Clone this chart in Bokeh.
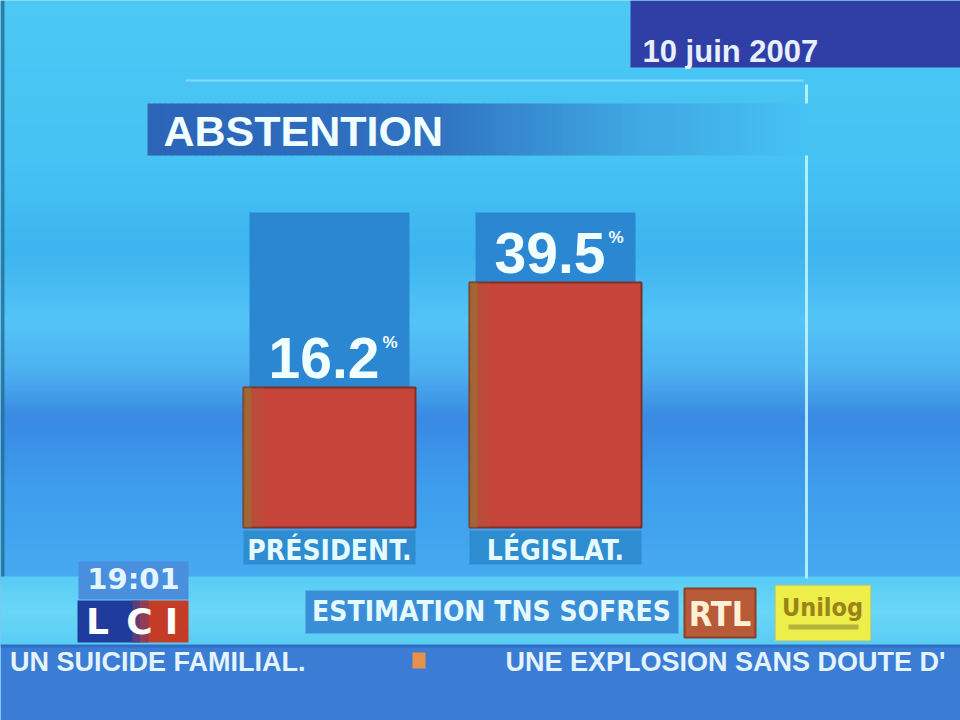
import numpy as np
from bokeh.plotting import figure
from bokeh.models import Range1d, ColumnDataSource
from bokeh.core.properties import value
from bokeh.embed import file_html
from bokeh.resources import INLINE

# ---------------- data ----------------
categories = ["PRÉSIDENT.", "LÉGISLAT."]
abstention = [16.2, 39.5]          # % abstention (estimation)
value_labels = ["16.2", "39.5"]
title_text = "ABSTENTION"
date_text = "10 juin 2007"
time_text = "19:01"
source_text = "ESTIMATION TNS SOFRES"
ticker_left = "UN SUICIDE FAMILIAL."
ticker_right = "UNE EXPLOSION SANS DOUTE D'"

# ---------------- layout (screen pixels) ----------------
W, H = 960, 720
COND = "'DejaVu Sans Condensed', 'Liberation Sans Narrow', sans-serif"
SANS = "'Liberation Sans', Arial, sans-serif"

# value scale used by the bars: zero at screen y ZERO_Y, PX_PER_PCT pixels per point
ZERO_Y = 460.0
PX_PER_PCT = 4.506
BASE_Y = 527.0                      # screen y of the bars' foot
BAR_BASE = (ZERO_Y - BASE_Y) / PX_PER_PCT
# category scale: index 0 at x=329, 226 px per category
CAT0_X, CAT_PX = 329.0, 226.0

BG = "#44bef2"
p = figure(width=W, height=H, output_backend="svg", toolbar_location=None,
           x_range=Range1d(0, W), y_range=Range1d(H, 0),
           x_axis_type=None, y_axis_type=None, min_border=0,
           outline_line_color=None, background_fill_color=BG,
           border_fill_color=BG)
p.extra_y_ranges = {"pct": Range1d((ZERO_Y - H) / PX_PER_PCT, ZERO_Y / PX_PER_PCT)}
p.extra_x_ranges = {"idx": Range1d(-CAT0_X / CAT_PX, (W - CAT0_X) / CAT_PX)}


def hex2rgb(h):
    h = h.lstrip("#")
    return np.array([int(h[i:i + 2], 16) for i in (0, 2, 4)], dtype=float)


def rgb2hex(c):
    return "#%02x%02x%02x" % tuple(int(round(v)) for v in c)


def mix(a, b, t):
    return rgb2hex(hex2rgb(a) * (1 - t) + hex2rgb(b) * t)


# ---------------- background gradient ----------------
stops_y = [0, 160, 250, 320, 370, 415, 440, 480, 575]
stops_c = ["#4cc8f4", "#46c2f3", "#3db4ef", "#54c4f5", "#4cb0f0",
           "#3a8ae2", "#3a90e6", "#3d9cec", "#46aaf0"]
ys = np.arange(0, 578, 3)
cols = np.array([hex2rgb(c) for c in stops_c])
bg_cols = [rgb2hex([np.interp(y, stops_y, cols[:, k]) for k in range(3)]) for y in ys]
p.quad(left=0, right=W, top=ys, bottom=ys + 4, color=bg_cols, line_color=None)
# left dark edge
p.quad(left=0, right=4, top=0, bottom=645, color="#1f6e96", line_color=None, alpha=0.8)

# light strip behind the bottom bar
ls_y = np.arange(576, 646, 2)
ls_cols = [mix("#58ccf4", "#6ad6f7", 1 - min(1.0, abs(y - 610) / 35.0)) for y in ls_y]
p.quad(left=0, right=W, top=ls_y, bottom=ls_y + 3, color=ls_cols, line_color=None)

# ticker band
p.quad(left=0, right=W, top=645, bottom=H, color="#3b7dd5", line_color=None)
p.quad(left=0, right=W, top=644, bottom=647, color="#2f6cc4", line_color=None)

# frame lines
p.segment(x0=[185], y0=[80], x1=[803], y1=[80], line_color="#aeeaff", line_alpha=0.55, line_width=2)
p.segment(x0=[806], y0=[84], x1=[806], y1=[578], line_color="#bdf4ff", line_alpha=0.9, line_width=3)

# top-right date box
p.quad(left=630, right=W, top=0, bottom=67, color="#2f3fa5", line_color=None)
p.text(x=[642], y=[51], text=[date_text], text_font=value(SANS), text_font_style="bold",
       text_font_size="31px", text_color="#e8f0ff", text_baseline="middle")

# title box with fading gradient (opaque blended strips)
tx = np.arange(147, 806, 6)
t_alpha = np.interp(tx, [147, 430, 620, 805], [1.0, 0.85, 0.3, 0.0])
t_cols = [mix("#46c2f3", "#2c64b8", a) for a in t_alpha]
p.quad(left=tx, right=tx + 7, top=103, bottom=155, color=t_cols, line_color=None)
p.text(x=[163], y=[130], text=[title_text], text_font=value(SANS), text_font_style="bold",
       text_font_size="43px", text_color="#f0ffff", text_baseline="middle")

# ---------------- bars ----------------
idx = list(range(len(categories)))
BAR_W = 172 / CAT_PX
TRACK_W = 160 / CAT_PX
src = ColumnDataSource(dict(
    x=idx, v=abstention, lab=value_labels, cat=categories,
    xl1=[i - BAR_W / 2 + 4 / CAT_PX for i in idx],
    xl2=[i - BAR_W / 2 + 10 / CAT_PX for i in idx],
))

# blue tracks behind the bars
p.vbar(x="x", width=TRACK_W, top=212, bottom=BASE_Y, source=src, x_range_name="idx",
       fill_color="#2b87d1", line_color=None)

p.vbar(x="x", top="v", bottom=BAR_BASE, width=BAR_W, source=src,
       x_range_name="idx", y_range_name="pct",
       fill_color="#c7443a", line_color="#7c3124", line_width=2)
# olive sheen on the bars' left edge
p.vbar(x="xl2", top="v", bottom=BAR_BASE, width=20 / CAT_PX, source=src,
       x_range_name="idx", y_range_name="pct",
       fill_color="#a0603a", fill_alpha=0.25, line_color=None)
p.vbar(x="xl1", top="v", bottom=BAR_BASE, width=8 / CAT_PX, source=src,
       x_range_name="idx", y_range_name="pct",
       fill_color="#8a8030", fill_alpha=0.5, line_color=None)

# value labels
p.text(x="x", y="v", text="lab", source=src, x_range_name="idx", y_range_name="pct",
       x_offset=50, y_offset=-30, text_align="right", text_baseline="middle",
       text_font=value(SANS), text_font_style="bold", text_font_size="57px",
       text_color="#f2ffff")
p.text(x="x", y="v", text=value("%"), source=src, x_range_name="idx", y_range_name="pct",
       x_offset=53, y_offset=-45, text_align="left", text_baseline="middle",
       text_font=value(SANS), text_font_style="bold", text_font_size="17px",
       text_color="#f2ffff")

# category labels
p.vbar(x="x", width=BAR_W, top=530, bottom=564, source=src, x_range_name="idx",
       fill_color="#2e8cd0", line_color=None)
p.text(x="x", y=550, text="cat", source=src, x_range_name="idx",
       text_align="center", text_baseline="middle",
       text_font=value(COND), text_font_style="bold", text_font_size="28px",
       text_color="#e6fbff")

# ---------------- bottom widgets ----------------
# time + channel logo
p.quad(left=78, right=188, top=561, bottom=599, color="#4a8ede", line_color=None)
p.text(x=[133], y=[578], text=[time_text], text_font=value("DejaVu Sans"),
       text_font_style="bold", text_font_size="29px", text_color="#e4f6ff",
       text_align="center", text_baseline="middle")
p.quad(left=77, right=140, top=600, bottom=642, color="#1f3c9c", line_color=None)
p.quad(left=140, right=188, top=600, bottom=642, color="#c43c26", line_color=None)
p.quad(left=132, right=148, top=600, bottom=642, color="#7a3c66", line_color=None, alpha=0.7)
p.text(x=[97, 139, 171], y=[621, 621, 621], text=["L", "C", "I"],
       text_font=value("DejaVu Sans"), text_font_style="bold", text_font_size="36px",
       text_color="#ffffff", text_align="center", text_baseline="middle")

# source box
p.quad(left=305, right=678, top=590, bottom=633, color="#3a8ed8", line_color=None)
p.text(x=[491], y=[611], text=[source_text], text_font=value(COND),
       text_font_style="bold", text_font_size="28px", text_color="#e4faff",
       text_align="center", text_baseline="middle")

# RTL logo
p.quad(left=684, right=755, top=588, bottom=637, fill_color="#b85a38",
       line_color="#8a4028", line_width=2)
p.text(x=[719.5], y=[613], text=["RTL"], text_font=value(COND),
       text_font_style="bold", text_font_size="34px", text_color="#fff0d6",
       text_align="center", text_baseline="middle")

# Unilog logo
p.quad(left=775, right=870, top=585, bottom=640, fill_color="#eeee4a", line_color="#d8d040")
p.text(x=[822], y=[607], text=["Unilog"], text_font=value(COND),
       text_font_style="bold", text_font_size="25px", text_color="#9a8418",
       text_align="center", text_baseline="middle")
p.quad(left=788, right=858, top=624, bottom=629, color="#6e6a2a", alpha=0.45, line_color=None)

# ticker
p.text(x=[305], y=[661], text=[ticker_left], text_font=value(SANS),
       text_font_style="bold", text_font_size="27px", text_color="#e4f4ff",
       text_align="right", text_baseline="middle")
p.quad(left=412, right=425, top=652, bottom=668, color="#e8904c", line_color=None)
p.text(x=[505], y=[661], text=[ticker_right], text_font=value(SANS),
       text_font_style="bold", text_font_size="27px", text_color="#e4f4ff",
       text_align="left", text_baseline="middle")

open("out.html", "w").write(file_html(p, INLINE))
